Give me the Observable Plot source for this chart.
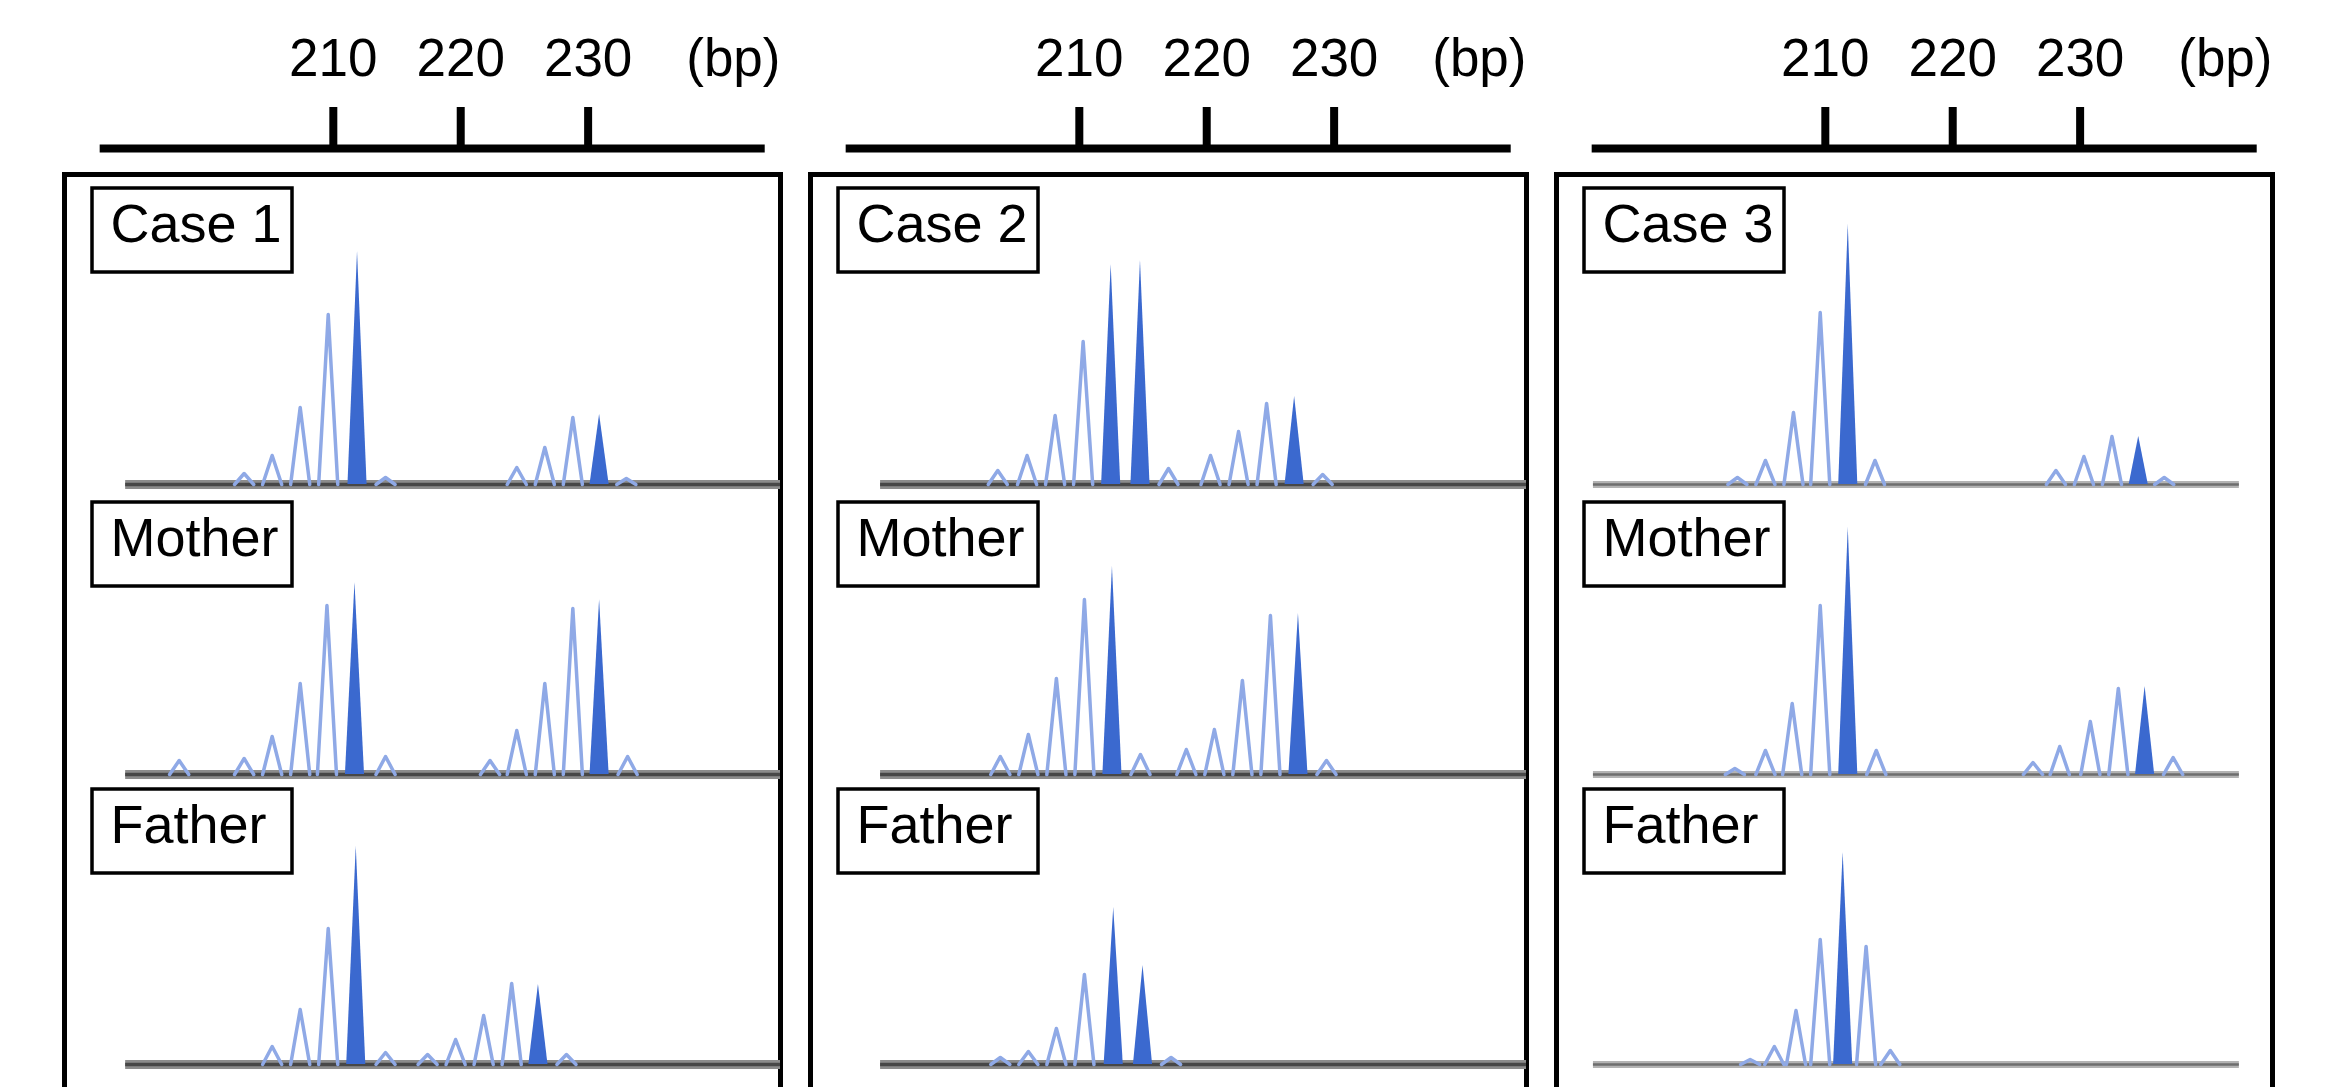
<!DOCTYPE html>
<html>
<head>
<meta charset="utf-8">
<script src="https://cdn.jsdelivr.net/npm/d3@7"></script>
<script src="https://cdn.jsdelivr.net/npm/@observablehq/plot@0.6"></script>
<style>
  html, body { margin: 0; padding: 0; background: #ffffff; }
  #chart svg { display: block; }
</style>
</head>
<body>
<div id="chart"></div>
<script>
// ---- data ----
const caseNames = ["Case 1", "Case 2", "Case 3"];
const rowNames = ["Case", "Mother", "Father"];
const tickValues = [210, 220, 230];
const unitLabel = "(bp)";
const xDomain = [188.9, 245.1];          // fragment size (bp) spanned by each panel box
const yDomain = [0, 290];                // signal intensity (arbitrary units)
const axisExtent = [191.7, 243.9];       // bp span of the drawn axis line
const baselineStart = [193.7, 194.4, 191.8];
const baselineEnd = [245.1, 245.1, 242.5];

// peaks: [size in bp, height, called allele (1) or stutter (0)]
const case1Case = [[203.0,11,0],[205.2,29,0],[207.4,77,0],[209.6,170,0],[211.9,233,1],[214.1,7,0],[224.4,17,0],[226.6,37,0],[228.8,67,0],[230.9,70,1],[233.0,6,0]];
const case1Mother = [[197.9,14,0],[203.0,16,0],[205.2,38,0],[207.4,91,0],[209.5,169,0],[211.7,192,1],[214.1,18,0],[222.3,14,0],[224.4,44,0],[226.6,91,0],[228.8,166,0],[230.9,175,1],[233.1,18,0]];
const case1Father = [[205.2,18,0],[207.4,55,0],[209.6,136,0],[211.8,218,1],[214.1,12,0],[217.4,10,0],[219.6,25,0],[221.8,49,0],[224.0,81,0],[226.1,80,1],[228.3,10,0]];
const case2Case = [[203.6,14,0],[205.9,29,0],[208.1,69,0],[210.3,143,0],[212.5,220,1],[214.8,224,1],[217.0,16,0],[220.3,29,0],[222.5,53,0],[224.7,81,0],[226.9,88,1],[229.1,10,0]];
const case2Mother = [[203.8,18,0],[206.0,40,0],[208.2,96,0],[210.4,175,0],[212.6,208,1],[214.8,20,0],[218.4,25,0],[220.6,45,0],[222.8,94,0],[225.0,159,0],[227.2,161,1],[229.4,14,0]];
const case2Father = [[203.8,7,0],[206.0,13,0],[208.2,36,0],[210.4,90,0],[212.7,157,1],[215.0,99,1],[217.2,7,0]];
const case3Case = [[203.1,7,0],[205.3,24,0],[207.5,72,0],[209.6,172,0],[211.8,260,1],[213.9,24,0],[228.1,14,0],[230.3,28,0],[232.5,48,0],[234.6,48,1],[236.6,7,0]];
const case3Mother = [[202.9,6,0],[205.3,24,0],[207.4,71,0],[209.6,169,0],[211.8,247,1],[214.0,24,0],[226.3,12,0],[228.4,28,0],[230.8,53,0],[233.0,86,0],[235.1,88,1],[237.3,17,0]];
const case3Father = [[204.1,5,0],[206.0,18,0],[207.7,54,0],[209.6,125,0],[211.4,212,1],[213.2,118,0],[215.1,14,0]];

// ---- tables built for Plot ----
const traces = [
  [caseNames[0], rowNames[0], case1Case], [caseNames[0], rowNames[1], case1Mother], [caseNames[0], rowNames[2], case1Father],
  [caseNames[1], rowNames[0], case2Case], [caseNames[1], rowNames[1], case2Mother], [caseNames[1], rowNames[2], case2Father],
  [caseNames[2], rowNames[0], case3Case], [caseNames[2], rowNames[1], case3Mother], [caseNames[2], rowNames[2], case3Father]
];
const peakHalfWidth = 0.75;
const peakPoints = [];
traces.forEach(([caseName, row, peaks]) => {
  peaks.forEach(([bp, h, called], i) => {
    const id = caseName + "|" + row + "|" + i;
    [[bp - peakHalfWidth, 0], [bp, h], [bp + peakHalfWidth, 0]].forEach(([x, v]) => {
      peakPoints.push({caseName, row, id, bp: x, v, called});
    });
  });
});
const cells = caseNames.flatMap((c, ci) => rowNames.map(r => ({
  caseName: c, row: r, label: r === rowNames[0] ? c : r, x1: baselineStart[ci], x2: baselineEnd[ci]
})));
const topCells = cells.filter(d => d.row === rowNames[0]);
const darkBaseCells = cells.filter(d => d.caseName !== caseNames[2]);
const lightBaseCells = cells.filter(d => d.caseName === caseNames[2]);

const F = {fx: "caseName", fy: "row"};
const font = "'Liberation Sans', Arial, Helvetica, sans-serif";

// label box placement per row (layout styling, pixels from the row top)
const labelBoxTop = {Case: -6, Mother: 18, Father: 15};
const labelMarks = rowNames.flatMap(r => [
  Plot.rect(cells.filter(d => d.row === r), {...F, insetLeft: 28, insetRight: 488,
    insetTop: labelBoxTop[r], insetBottom: 290 - labelBoxTop[r] - 84,
    fill: "none", stroke: "#000", strokeWidth: 3.5}),
  Plot.text(cells.filter(d => d.row === r), {...F, text: "label", frameAnchor: "top-left", textAnchor: "start",
    lineAnchor: "top", dx: 46, dy: labelBoxTop[r] + 15, fontSize: 54})
]);

const chart = Plot.plot({
  width: 2336,
  height: 1087,
  marginTop: 194,
  marginBottom: 23,
  marginLeft: 63,
  marginRight: 63,
  style: {fontFamily: font, background: "#ffffff", color: "#000000"},
  fx: {domain: caseNames, axis: null, paddingInner: 0.04, paddingOuter: 0},
  fy: {domain: rowNames, axis: null, padding: 0},
  x: {domain: xDomain, axis: null},
  y: {domain: yDomain, axis: null},
  marks: [
    // panel box
    Plot.frame({anchor: "left", insetTop: -20, insetBottom: -23, stroke: "#000", strokeWidth: 5}),
    Plot.frame({anchor: "right", insetTop: -20, insetBottom: -23, stroke: "#000", strokeWidth: 5}),
    Plot.ruleY(topCells, {...F, y: () => yDomain[1], dy: -20, stroke: "#000", strokeWidth: 5}),
    // size axis above each panel
    Plot.ruleY(topCells, {...F, y: () => yDomain[1], x1: () => axisExtent[0], x2: () => axisExtent[1], dy: -46, stroke: "#000", strokeWidth: 8}),
    Plot.axisX({anchor: "top", ticks: tickValues, tickFormat: d => String(d), tickSize: 42, tickPadding: 31,
      strokeWidth: 8, fontSize: 53, dy: -46, label: null}),
    Plot.text(topCells, {...F, text: () => unitLabel, frameAnchor: "top-right", textAnchor: "end", lineAnchor: "bottom",
      dy: -119, fontSize: 53}),
    // sample label boxes
    ...labelMarks,
    // baselines
    Plot.ruleY(darkBaseCells, {...F, y: () => 0, x1: "x1", x2: "x2", stroke: "#8c8c8c", strokeWidth: 9}),
    Plot.ruleY(darkBaseCells, {...F, y: () => 0, x1: "x1", x2: "x2", stroke: "#474747", strokeWidth: 3.5}),
    Plot.ruleY(lightBaseCells, {...F, y: () => 0, x1: "x1", x2: "x2", stroke: "#b3b3b3", strokeWidth: 7}),
    Plot.ruleY(lightBaseCells, {...F, y: () => 0, x1: "x1", x2: "x2", stroke: "#6e6e6e", strokeWidth: 2.5}),
    // peaks
    Plot.line(peakPoints.filter(d => !d.called), {...F, x: "bp", y: "v", z: "id", stroke: "#8fa9e6", strokeWidth: 3.5,
      strokeLinejoin: "round"}),
    Plot.areaY(peakPoints.filter(d => d.called), {...F, x: "bp", y: "v", z: "id", fill: "#3b69cf"})
  ]
});
document.getElementById("chart").appendChild(chart);
</script>
</body>
</html>
